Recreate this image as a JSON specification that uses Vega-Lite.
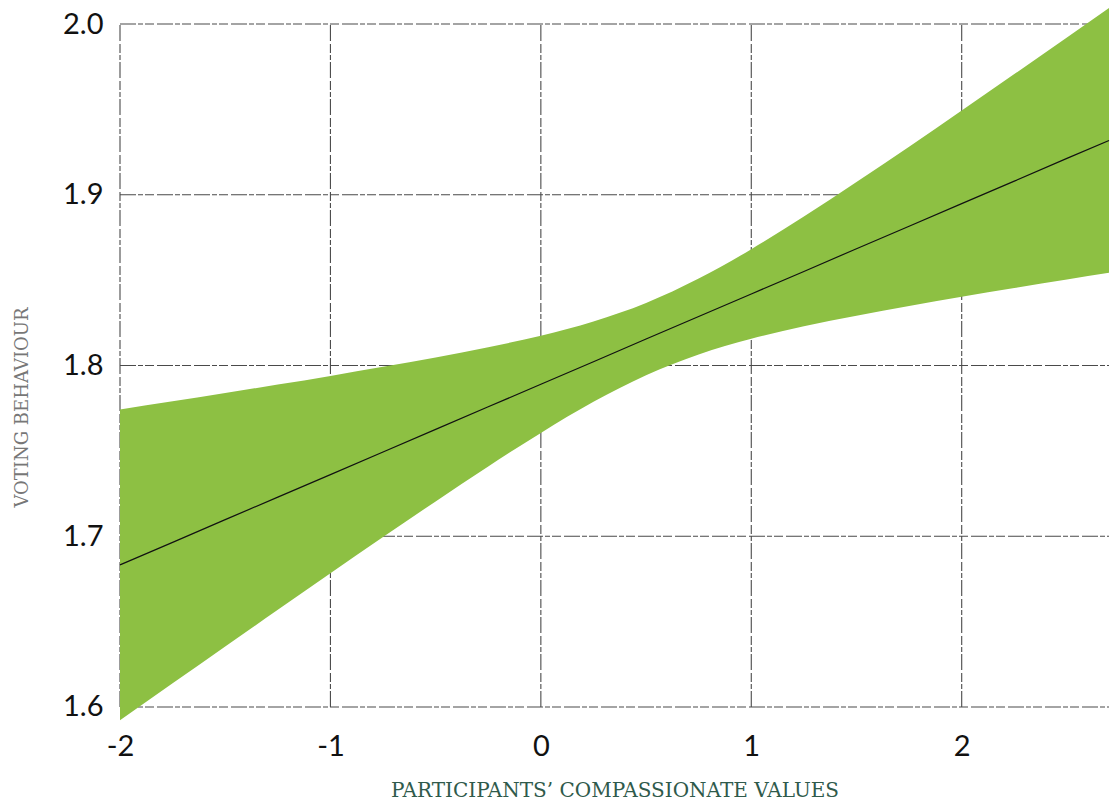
{
  "$schema": "https://vega.github.io/schema/vega-lite/v6.json",
  "autosize": {"type": "none"},
  "padding": {"left": 120, "top": 7, "right": 3, "bottom": 79},
  "width": 989,
  "height": 717,
  "background": "white",
  "config": {"view": {"stroke": null}},
  "datasets": {
    "band": [
      {"x": -2.0, "lo": 1.5922, "hi": 1.7742, "fit": 1.6832},
      {"x": -1.75, "lo": 1.6138, "hi": 1.7790, "fit": 1.6964},
      {"x": -1.5, "lo": 1.6354, "hi": 1.7839, "fit": 1.7097},
      {"x": -1.25, "lo": 1.6569, "hi": 1.7888, "fit": 1.7229},
      {"x": -1.0, "lo": 1.6783, "hi": 1.7939, "fit": 1.7361},
      {"x": -0.75, "lo": 1.6995, "hi": 1.7992, "fit": 1.7493},
      {"x": -0.5, "lo": 1.7204, "hi": 1.8047, "fit": 1.7626},
      {"x": -0.25, "lo": 1.7409, "hi": 1.8107, "fit": 1.7758},
      {"x": 0.0, "lo": 1.7605, "hi": 1.8175, "fit": 1.7890},
      {"x": 0.25, "lo": 1.7787, "hi": 1.8258, "fit": 1.8022},
      {"x": 0.5, "lo": 1.7943, "hi": 1.8366, "fit": 1.8155},
      {"x": 0.75, "lo": 1.8065, "hi": 1.8509, "fit": 1.8287},
      {"x": 1.0, "lo": 1.8157, "hi": 1.8681, "fit": 1.8419},
      {"x": 1.25, "lo": 1.8230, "hi": 1.8873, "fit": 1.8551},
      {"x": 1.5, "lo": 1.8292, "hi": 1.9075, "fit": 1.8684},
      {"x": 1.75, "lo": 1.8349, "hi": 1.9282, "fit": 1.8816},
      {"x": 2.0, "lo": 1.8403, "hi": 1.9494, "fit": 1.8948},
      {"x": 2.25, "lo": 1.8454, "hi": 1.9707, "fit": 1.9080},
      {"x": 2.5, "lo": 1.8504, "hi": 1.9921, "fit": 1.9213},
      {"x": 2.7, "lo": 1.8543, "hi": 2.0094, "fit": 1.9318}
    ],
    "vgrid": [
      {"gx": -2, "y1": 1.6, "y2": 2.0},
      {"gx": -1, "y1": 1.6, "y2": 2.0},
      {"gx": 0, "y1": 1.6, "y2": 2.0},
      {"gx": 1, "y1": 1.6, "y2": 2.0},
      {"gx": 2, "y1": 1.6, "y2": 2.0}
    ],
    "hgrid": [
      {"gy": 1.6, "x1": -2, "x2": 2.7},
      {"gy": 1.7, "x1": -2, "x2": 2.7},
      {"gy": 1.8, "x1": -2, "x2": 2.7},
      {"gy": 1.9, "x1": -2, "x2": 2.7},
      {"gy": 2.0, "x1": -2, "x2": 2.7}
    ]
  },
  "layer": [
    {
      "data": {"name": "vgrid"},
      "mark": {"type": "rule", "color": "#4a4a4a", "strokeWidth": 1.1, "strokeDash": [16, 2, 5, 2, 9, 3]},
      "encoding": {
        "x": {"field": "gx", "type": "quantitative", "scale": {"domain": [-2, 2.7], "nice": false, "zero": false},
          "axis": {
            "values": [-2, -1, 0, 1, 2], "grid": false, "domain": false, "ticks": false,
            "labelFont": "Lato", "labelFontSize": 29, "labelColor": "#111111", "labelPadding": 8,
            "labelAlign": "center", "labelExpr": "'' + datum.value",
            "title": "PARTICIPANTS’ COMPASSIONATE VALUES",
            "titleFont": "DejaVu Serif", "titleFontSize": 20, "titleFontWeight": "normal",
            "titleColor": "#2f5a4b", "titlePadding": 19
          }},
        "y": {"field": "y1", "type": "quantitative", "scale": {"domain": [1.59, 2.01], "nice": false, "zero": false},
          "axis": {
            "values": [1.6, 1.7, 1.8, 1.9, 2.0], "grid": false, "domain": false, "ticks": false,
            "labelFont": "Lato", "labelFontSize": 29, "labelColor": "#111111", "labelPadding": 17,
            "format": ".1f",
            "title": "VOTING BEHAVIOUR",
            "titleFont": "DejaVu Serif", "titleFontSize": 18, "titleFontWeight": "normal",
            "titleColor": "#777777", "titleX": -98, "titleY": 400, "titleAngle": -90,
            "titleAlign": "center", "titleBaseline": "middle"
          }},
        "y2": {"field": "y2"}
      }
    },
    {
      "data": {"name": "hgrid"},
      "mark": {"type": "rule", "color": "#4a4a4a", "strokeWidth": 1.1, "strokeDash": [16, 2, 5, 2, 9, 3]},
      "encoding": {
        "x": {"field": "x1", "type": "quantitative"},
        "x2": {"field": "x2"},
        "y": {"field": "gy", "type": "quantitative"}
      }
    },
    {
      "data": {"name": "band"},
      "mark": {"type": "area", "color": "#8dc043", "opacity": 1, "interpolate": "monotone"},
      "encoding": {
        "x": {"field": "x", "type": "quantitative"},
        "y": {"field": "lo", "type": "quantitative"},
        "y2": {"field": "hi"}
      }
    },
    {
      "data": {"name": "band"},
      "mark": {"type": "line", "color": "#111111", "strokeWidth": 1.2},
      "encoding": {
        "x": {"field": "x", "type": "quantitative"},
        "y": {"field": "fit", "type": "quantitative"}
      }
    }
  ]
}
